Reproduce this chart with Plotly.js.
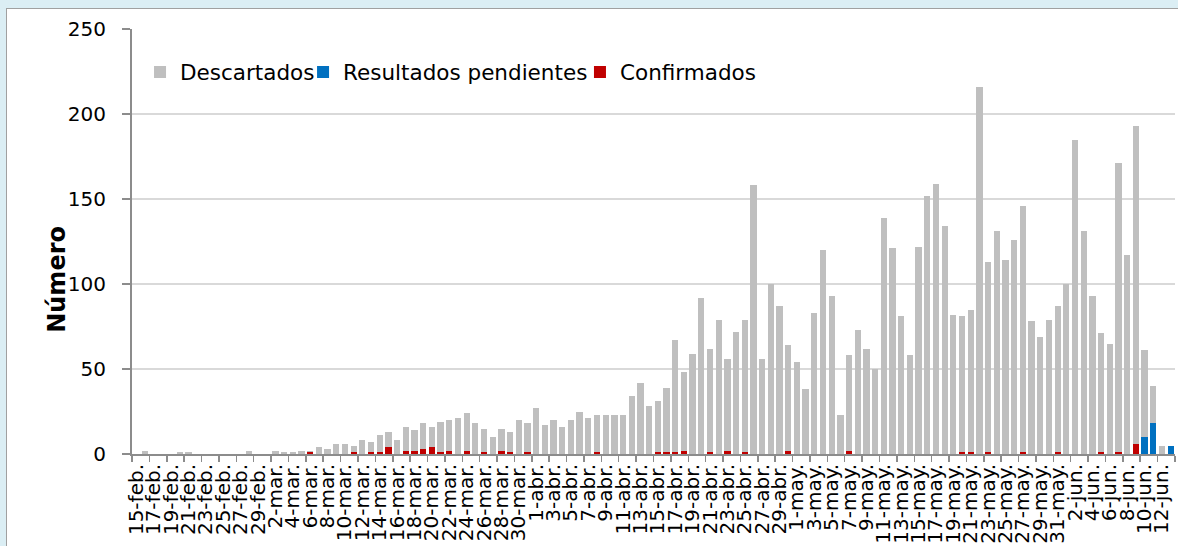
<!DOCTYPE html>
<html><head><meta charset="utf-8">
<script src="https://cdn.plot.ly/plotly-3.0.1.min.js"></script>
<style>
html,body{margin:0;padding:0;background:#dbeef4;width:1178px;height:546px;overflow:hidden;}
#frame{position:absolute;left:6px;top:8px;width:1172px;height:538px;background:#fff;border-left:1px solid #a0a0a0;border-top:1px solid #a0a0a0;}
#chart{width:1171px;height:537px;}
</style></head><body>
<div id="frame"><div id="chart"></div></div>
<script>
var fechas = [
 "15-feb.","16-feb.","17-feb.","18-feb.","19-feb.","20-feb.","21-feb.","22-feb.","23-feb.","24-feb.",
 "25-feb.","26-feb.","27-feb.","28-feb.","29-feb.","1-mar.","2-mar.","3-mar.","4-mar.","5-mar.",
 "6-mar.","7-mar.","8-mar.","9-mar.","10-mar.","11-mar.","12-mar.","13-mar.","14-mar.","15-mar.",
 "16-mar.","17-mar.","18-mar.","19-mar.","20-mar.","21-mar.","22-mar.","23-mar.","24-mar.","25-mar.",
 "26-mar.","27-mar.","28-mar.","29-mar.","30-mar.","31-mar.","1-abr.","2-abr.","3-abr.","4-abr.",
 "5-abr.","6-abr.","7-abr.","8-abr.","9-abr.","10-abr.","11-abr.","12-abr.","13-abr.","14-abr.",
 "15-abr.","16-abr.","17-abr.","18-abr.","19-abr.","20-abr.","21-abr.","22-abr.","23-abr.","24-abr.",
 "25-abr.","26-abr.","27-abr.","28-abr.","29-abr.","30-abr.","1-may.","2-may.","3-may.","4-may.",
 "5-may.","6-may.","7-may.","8-may.","9-may.","10-may.","11-may.","12-may.","13-may.","14-may.",
 "15-may.","16-may.","17-may.","18-may.","19-may.","20-may.","21-may.","22-may.","23-may.","24-may.",
 "25-may.","26-may.","27-may.","28-may.","29-may.","30-may.","31-may.","1-jun.","2-jun.","3-jun.",
 "4-jun.","5-jun.","6-jun.","7-jun.","8-jun.","9-jun.","10-jun.","11-jun.","12-jun.","13-jun."
];
var descartados = [
 0,2,0,0,0,1,1,0,0,0,
 0,0,0,2,0,0,2,1,1,2,
 1,4,3,6,6,4,8,6,10,9,
 8,14,12,15,12,18,18,21,22,18,
 14,10,13,12,20,17,27,17,20,16,
 20,25,21,22,23,23,23,34,42,28,
 30,38,66,46,59,92,61,79,54,72,
 78,158,56,100,87,62,54,38,83,120,
 93,23,56,73,62,50,139,121,81,58,
 122,152,159,134,82,80,84,216,112,131,
 114,126,145,78,69,79,86,100,185,131,
 93,70,65,170,117,187,51,22,5,0
];
var pendientes = [
 0,0,0,0,0,0,0,0,0,0, 0,0,0,0,0,0,0,0,0,0,
 0,0,0,0,0,0,0,0,0,0, 0,0,0,0,0,0,0,0,0,0,
 0,0,0,0,0,0,0,0,0,0, 0,0,0,0,0,0,0,0,0,0,
 0,0,0,0,0,0,0,0,0,0, 0,0,0,0,0,0,0,0,0,0,
 0,0,0,0,0,0,0,0,0,0, 0,0,0,0,0,0,0,0,0,0,
 0,0,0,0,0,0,0,0,0,0, 0,0,0,0,0,0,10,18,0,5
];
var confirmados = [
 0,0,0,0,0,0,0,0,0,0,
 0,0,0,0,0,0,0,0,0,0,
 1,0,0,0,0,1,0,1,1,4,
 0,2,2,3,4,1,2,0,2,0,
 1,0,2,1,0,1,0,0,0,0,
 0,0,0,1,0,0,0,0,0,0,
 1,1,1,2,0,0,1,0,2,0,
 1,0,0,0,0,2,0,0,0,0,
 0,0,2,0,0,0,0,0,0,0,
 0,0,0,0,0,1,1,0,1,0,
 0,0,1,0,0,0,1,0,0,0,
 0,1,0,1,0,6,0,0,0,0
];
var yTicks = [0,50,100,150,200,250];

var FONT = "DejaVu Sans";
var traces = [
 {type:"bar", name:"Confirmados", x:fechas, y:confirmados, marker:{color:"#c00000"}, legend:"legend3"},
 {type:"bar", name:"Resultados pendientes", x:fechas, y:pendientes, marker:{color:"#0070c0"}, legend:"legend2"},
 {type:"bar", name:"Descartados", x:fechas, y:descartados, marker:{color:"#bfbfbf"}, legend:"legend"}
];
function leg(x){
  return {orientation:"h", x:x, xanchor:"left", y:0.899, yanchor:"middle",
    bgcolor:"rgba(0,0,0,0)", font:{family:FONT, size:21.5, color:"#000"}};
}
var layout = {
 width:1171, height:537,
 margin:{l:125, r:3, t:20, b:92},
 paper_bgcolor:"#ffffff", plot_bgcolor:"#ffffff",
 font:{family:FONT, size:20, color:"#000000"},
 barmode:"stack", bargap:0.28,
 showlegend:true,
 legend:leg(0.0077), legend2:leg(0.164), legend3:leg(0.4295),
 xaxis:{type:"category", tickmode:"linear", tick0:0, dtick:2, tickangle:-90,
   tickson:"boundaries", ticks:"outside", ticklen:6, tickcolor:"#8c8c8c", tickwidth:1.5,
   showline:true, linecolor:"#8c8c8c", linewidth:2, showgrid:false, automargin:false,
   tickfont:{family:FONT, size:20, color:"#000"}},
 yaxis:{range:[0,250], tickmode:"array", tickvals:yTicks, ticks:"outside", ticklen:8,
   tickcolor:"#8c8c8c", tickwidth:1.5, showline:true, linecolor:"#8c8c8c", linewidth:2,
   showgrid:true, gridcolor:"#d9d9d9", gridwidth:1.2, zeroline:false, automargin:false,
   ticklabelstandoff:12, tickfont:{family:FONT, size:20, color:"#000"}},
 annotations:[{text:"Número", textangle:-90, xref:"paper", yref:"paper", x:-0.072, y:0.412,
   xanchor:"center", yanchor:"middle", showarrow:false,
   font:{family:FONT, size:24, weight:700, color:"#000"}}]
};
Plotly.newPlot("chart", traces, layout, {displayModeBar:false, staticPlot:true});
</script>
</body></html>
